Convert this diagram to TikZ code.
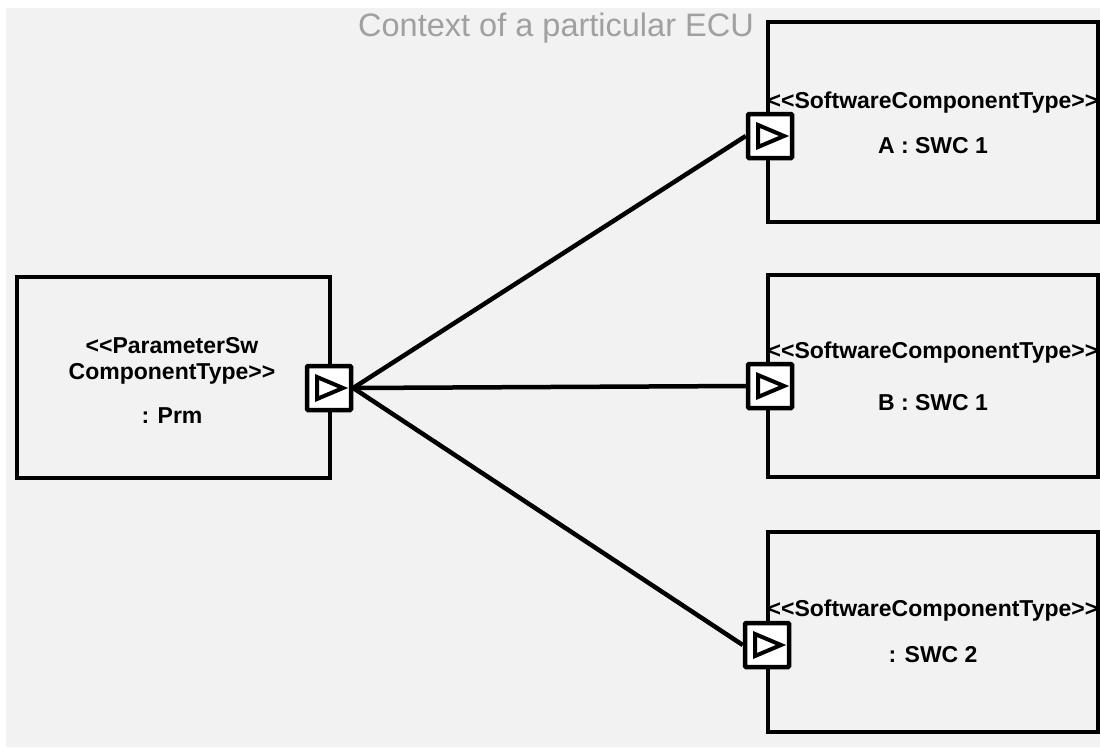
\documentclass[tikz,border=0pt]{standalone}
\usepackage{fontspec}
\setmainfont{Liberation Sans}
\usetikzlibrary{positioning}
\definecolor{ecuBack}{RGB}{242,242,242}
\definecolor{ecuTitle}{RGB}{160,160,160}
\newcommand{\oguil}{<\kern0pt<}
\newcommand{\cguil}{>\kern0pt>}

\begin{document}
\begin{tikzpicture}[x=1pt,y=-1pt,
    comp/.style={draw, line width=4.5pt, inner sep=0pt},
    port/.style={draw, fill=white, line width=4.5pt, minimum size=44pt, inner sep=0pt, rounded corners=1pt},
    tri/.style={line width=4pt, line join=miter},
    wire/.style={line width=4.5pt},
    lbl/.style={anchor=base, font=\fontsize{23}{26}\selectfont\bfseries},
    ctxtitle/.style={anchor=base, text=ecuTitle, font=\fontsize{32.5}{36}\selectfont}]
        % --- background of the ECU context ---
        \useasboundingbox (0,0) rectangle (1100,747);
        \fill[ecuBack] (6,8) rectangle (1100,747);
        \node[ctxtitle] (ctx) at (556,36) {Context of a particular ECU};
        % --- components ---
        \node[comp, minimum width=313pt, minimum height=201pt] (prm) at (173.5,377.5) {};
        \node[comp, minimum width=330pt, minimum height=200pt] (swcA) at (933,122) {};
        \node[comp, minimum width=330pt, minimum height=202pt] (swcB) at (933,376) {};
        \node[comp, minimum width=330pt, minimum height=200pt] (swcC) at (933,632) {};
        % --- component labels ---
        \node[lbl] (prmSt) at (172,353) {\oguil ParameterSw};
        \node[lbl] (prmSt2) at (172,379) {ComponentType\cguil};
        \node[lbl] (prmName) at (172,423) {: Prm};
        \node[lbl] (swcASt) at (933,108) {\oguil SoftwareComponentType\cguil};
        \node[lbl] (swcAName) at (933,153) {A : SWC 1};
        \node[lbl] (swcBSt) at (933,358) {\oguil SoftwareComponentType\cguil};
        \node[lbl] (swcBName) at (933,410) {B : SWC 1};
        \node[lbl] (swcCSt) at (933,616) {\oguil SoftwareComponentType\cguil};
        \node[lbl] (swcCName) at (933,662) {: SWC 2};
        % --- ports ---
        \node[port] (pPrm) at (329,388) {};
        \node[port] (pA) at (770,136) {};
        \node[port] (pB) at (770,386) {};
        \node[port] (pC) at (767,645) {};
        \draw[tri] (pPrm.center) ++(-12,-11) -- ++(0,22) -- ++(26,-11) -- cycle;
        \draw[tri] (pA.center) ++(-12,-11) -- ++(0,22) -- ++(26,-11) -- cycle;
        \draw[tri] (pB.center) ++(-12,-11) -- ++(0,22) -- ++(26,-11) -- cycle;
        \draw[tri] (pC.center) ++(-12,-11) -- ++(0,22) -- ++(26,-11) -- cycle;
        % --- connectors ---
        \draw[wire] (pPrm.east) -- (pA.west);
        \draw[wire] (pPrm.east) -- (pB.west);
        \draw[wire] (pPrm.east) -- (pC.west);
      \end{tikzpicture}
\end{document}
